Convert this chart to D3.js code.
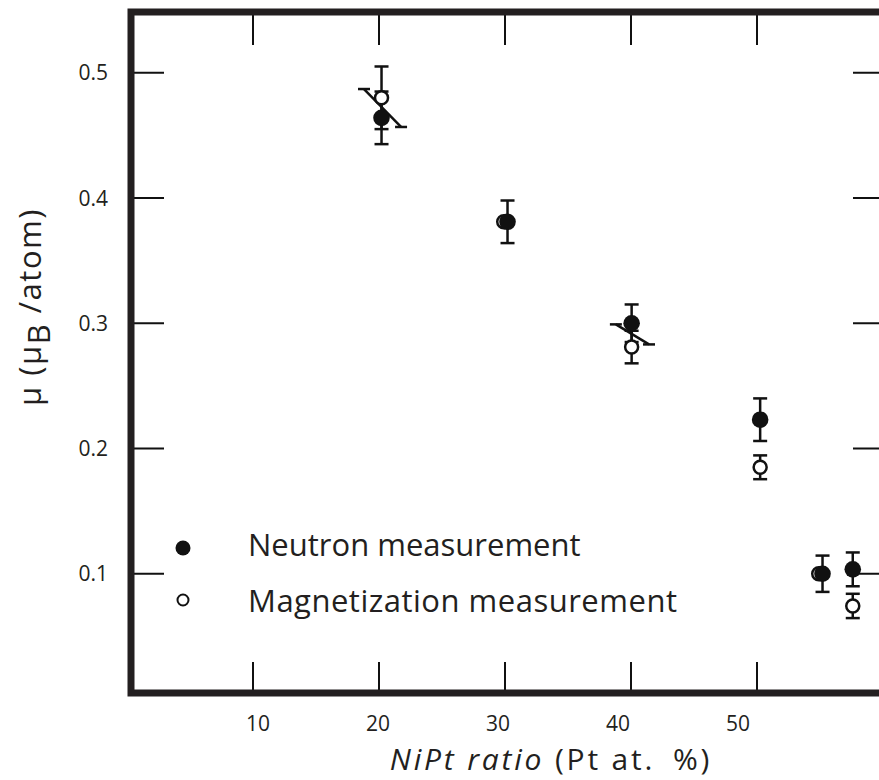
<!DOCTYPE html>
<html>
<head>
<meta charset="utf-8">
<script src="https://cdn.jsdelivr.net/npm/d3@7"></script>
<style>
  html, body { margin: 0; padding: 0; background: #fff; }
  svg { display: block; }
  text { font-family: "Open Sans", "Noto Sans", sans-serif; fill: #231f20; }
</style>
</head>
<body>
<div id="chart"></div>
<script>
// Pt content (at.%) and moment (mu_B/atom)
const neutronX   = [20.2, 30.2, 40.05, 50.25, 55.2, 57.6];
const neutronY   = [0.464, 0.381, 0.300, 0.223, 0.100, 0.1035];
const neutronErr = [0.021, 0.017, 0.015, 0.017, 0.0145, 0.0135];

const magnetX   = [20.2, 29.9, 40.05, 50.25, 54.9, 57.6];
const magnetY   = [0.480, 0.381, 0.281, 0.185, 0.100, 0.0743];
const magnetErr = [0.025, 0, 0.013, 0.0095, 0, 0.0097];

// the two tilted bars crossing the 20 % and 40 % pairs
const slantBars = [
  { x1: 18.81, y1: 0.487, x2: 21.75, y2: 0.4567 },
  { x1: 38.8,  y1: 0.2991, x2: 41.43, y2: 0.2831 }
];

const xTicks = [10, 20, 30, 40, 50];
const yTicks = [0.1, 0.2, 0.3, 0.4, 0.5];
const legendItems = ["Neutron measurement", "Magnetization measurement"];

const W = 879, H = 780;
const svg = d3.select("#chart").append("svg")
  .attr("width", W).attr("height", H).attr("viewBox", `0 0 ${W} ${H}`);

// scales follow the scanned frame; the retyped tick labels sit on a slightly different grid
const x = d3.scaleLinear().domain([0, 60]).range([127, 883]);
const xLab = d3.scaleLinear().domain([10, 50]).range([258, 738]);
const y = d3.scaleLinear().domain([0, 0.5]).range([699, 72.75]);

const INK = "#111";
const frame = { left: 131, top: 12, bottom: 693, right: 886 };

// inward ticks on all four sides
const tk = svg.append("g").attr("stroke", INK).attr("stroke-width", 2);
tk.selectAll("line.tb").data(xTicks).join("line").attr("class", "tb")
  .attr("x1", d => x(d)).attr("x2", d => x(d)).attr("y1", frame.top).attr("y2", frame.top + 33);
tk.selectAll("line.bb").data(xTicks).join("line").attr("class", "bb")
  .attr("x1", d => x(d)).attr("x2", d => x(d)).attr("y1", frame.bottom).attr("y2", frame.bottom - 31);
tk.selectAll("line.lt").data(yTicks).join("line").attr("class", "lt")
  .attr("x1", frame.left).attr("x2", frame.left + 33).attr("y1", d => y(d)).attr("y2", d => y(d));
tk.selectAll("line.rt").data(yTicks).join("line").attr("class", "rt")
  .attr("x1", 853).attr("x2", frame.right).attr("y1", d => y(d)).attr("y2", d => y(d));

// heavy frame (right side runs off the page)
svg.append("path")
  .attr("d", `M${frame.right + 10},${frame.top}H${frame.left}V${frame.bottom}H${frame.right + 10}`)
  .attr("fill", "none").attr("stroke", "#231f20").attr("stroke-width", 7)
  .attr("stroke-linejoin", "miter");

// tick labels
svg.append("g").selectAll("text").data(yTicks).join("text")
  .attr("x", 108).attr("y", d => y(d)).attr("dy", "0.36em")
  .attr("text-anchor", "end").style("font-size", "21px")
  .text(d3.format(".1f"));
svg.append("g").selectAll("text").data(xTicks).join("text")
  .attr("x", d => xLab(d)).attr("y", 731)
  .attr("text-anchor", "middle").style("font-size", "21px")
  .text(d => d);

// axis titles
const xt = svg.append("text").attr("x", 551).attr("y", 770)
  .attr("text-anchor", "middle").style("font-size", "30px")
  .style("letter-spacing", "2.8px");
xt.append("tspan").style("font-style", "italic").text("NiPt ratio");
xt.append("tspan").text(" (Pt at.\u2002%)");

const yt = svg.append("text")
  .attr("transform", "translate(41,307) rotate(-90)")
  .attr("text-anchor", "middle").style("font-size", "31px")
  .style("letter-spacing", "1.5px");
yt.append("tspan").text("\u03bc (\u03bc");
yt.append("tspan").attr("dy", 9).text("B");
yt.append("tspan").attr("dy", -9).text(" /atom)");

// error bars
const CAP = 7;
function errBars(g, xs, ys, es) {
  const rows = xs.map((v, i) => ({ x: v, y: ys[i], e: es[i] })).filter(d => d.e > 0);
  g.selectAll("line.v").data(rows).join("line").attr("class", "v")
    .attr("x1", d => x(d.x)).attr("x2", d => x(d.x))
    .attr("y1", d => y(d.y - d.e)).attr("y2", d => y(d.y + d.e));
  g.selectAll("line.c1").data(rows).join("line").attr("class", "c1")
    .attr("x1", d => x(d.x) - CAP).attr("x2", d => x(d.x) + CAP)
    .attr("y1", d => y(d.y + d.e)).attr("y2", d => y(d.y + d.e));
  g.selectAll("line.c2").data(rows).join("line").attr("class", "c2")
    .attr("x1", d => x(d.x) - CAP).attr("x2", d => x(d.x) + CAP)
    .attr("y1", d => y(d.y - d.e)).attr("y2", d => y(d.y - d.e));
}
errBars(svg.append("g").attr("stroke", INK).attr("stroke-width", 2.5), magnetX, magnetY, magnetErr);
errBars(svg.append("g").attr("stroke", INK).attr("stroke-width", 2.5), neutronX, neutronY, neutronErr);

// tilted bars with end caps
const sb = svg.append("g").attr("stroke", INK).attr("stroke-width", 2.5);
sb.selectAll("line.s").data(slantBars).join("line").attr("class", "s")
  .attr("x1", d => x(d.x1)).attr("y1", d => y(d.y1))
  .attr("x2", d => x(d.x2)).attr("y2", d => y(d.y2));
sb.selectAll("line.sa").data(slantBars).join("line").attr("class", "sa")
  .attr("x1", d => x(d.x1) - 6).attr("x2", d => x(d.x1) + 6)
  .attr("y1", d => y(d.y1)).attr("y2", d => y(d.y1));
sb.selectAll("line.sb").data(slantBars).join("line").attr("class", "sb")
  .attr("x1", d => x(d.x2) - 6).attr("x2", d => x(d.x2) + 6)
  .attr("y1", d => y(d.y2)).attr("y2", d => y(d.y2));

// markers: open first, filled on top
svg.append("g").selectAll("circle").data(magnetX.map((v, i) => [v, magnetY[i]])).join("circle")
  .attr("cx", d => x(d[0])).attr("cy", d => y(d[1])).attr("r", 6.5)
  .attr("fill", "#fff").attr("stroke", INK).attr("stroke-width", 2.5);
svg.append("g").selectAll("circle").data(neutronX.map((v, i) => [v, neutronY[i]])).join("circle")
  .attr("cx", d => x(d[0])).attr("cy", d => y(d[1])).attr("r", 8.3)
  .attr("fill", INK);

// legend
const lg = svg.append("g");
lg.append("circle").attr("cx", 183).attr("cy", 548).attr("r", 7.5).attr("fill", INK);
lg.append("circle").attr("cx", 183).attr("cy", 600).attr("r", 5.5)
  .attr("fill", "#fff").attr("stroke", INK).attr("stroke-width", 2);
lg.selectAll("text").data(legendItems).join("text")
  .attr("x", 248).attr("y", (d, i) => 556 + i * 56)
  .style("font-size", "31px").style("letter-spacing", (d, i) => i ? "0.5px" : "0px")
  .text(d => d);
</script>
</body>
</html>
